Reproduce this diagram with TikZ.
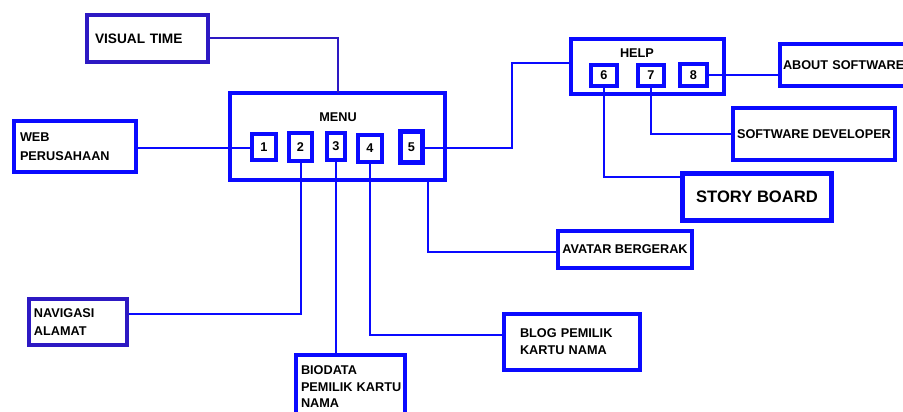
\documentclass[tikz,border=0pt]{standalone}
\usepackage{fontspec}
\setmainfont{Liberation Sans}
\definecolor{bl}{RGB}{10,10,255}
\definecolor{pu}{RGB}{45,25,195}
\begin{document}
\begin{tikzpicture}[x=1pt,y=-1pt,
  every node/.style={font=\fontsize{12.7}{17.5}\selectfont\bfseries, text=black, outer sep=0pt},
  bx/.style={draw=bl, line width=4pt, inner sep=0pt},
  lbx/.style={bx, align=left},
  cbx/.style={bx, align=center},
  num/.style={draw=bl, line width=4.5pt, inner sep=0pt},
  conn/.style={draw=bl, line width=2pt},
]
\useasboundingbox (0,0) rectangle (903,412);

% connectors first
\coordinate (jh) at (512,63);
\coordinate (jsb) at (680,177);
\coordinate (ja) at (428,252);
\coordinate (jb) at (502,335);
\coordinate (jn) at (129,314);

% boxes
\node[lbx, draw=pu, text width=105pt, inner xsep=8pt, minimum width=121pt, minimum height=47pt, font=\fontsize{13.7}{16}\selectfont\bfseries] (vt) at (147.5,38.5) {VISUAL TIME};
\node[lbx, text width=110pt, inner xsep=6pt, minimum width=122pt, minimum height=51pt, font=\fontsize{12.7}{19}\selectfont\bfseries] (web) at (75,146.5) {WEB\\PERUSAHAAN};
\node[lbx, draw=pu, text width=88pt, inner xsep=5pt, minimum width=98pt, minimum height=46pt, font=\fontsize{12.7}{18}\selectfont\bfseries] (nav) at (78,322) {NAVIGASI\\ALAMAT};
\node[lbx, text width=99pt, inner xsep=5pt, minimum width=109pt, minimum height=64pt, font=\fontsize{12.7}{16.5}\selectfont\bfseries] (bio) at (350.5,387) {BIODATA\\\mbox{PEMILIK KARTU}\\NAMA};
\node[lbx, text width=104pt, inner xsep=16pt, minimum width=136pt, minimum height=56pt, font=\fontsize{12.7}{17}\selectfont\bfseries] (blog) at (572,342) {BLOG PEMILIK\\KARTU NAMA};
\node[cbx, minimum width=134pt, minimum height=37pt] (av) at (625,249.5) {AVATAR BERGERAK};
\node[cbx, minimum width=162pt, minimum height=52pt] (sd) at (814,134) {SOFTWARE DEVELOPER};
\node[cbx, line width=5pt, minimum width=149pt, minimum height=47pt, font=\fontsize{16.6}{20}\selectfont\bfseries] (sb) at (757,197) {STORY BOARD};
\node[lbx, text width=128pt, inner xsep=3pt, minimum width=134pt, minimum height=42pt] (ab) at (847,65) {\mbox{ABOUT SOFTWARE}};

\node[bx, minimum width=215pt, minimum height=87pt] (menu) at (337.5,136.5) {};
\node (menut) at (338,117) {MENU};
\node[bx, minimum width=153pt, minimum height=55pt] (help) at (647.5,66.5) {};
\node (helpt) at (637,53) {HELP};

% connectors
\draw[conn, draw=pu] (vt.east) -| (menu.north);
\draw[conn] (web.east |- 0,148) -- (250,148);
\draw[conn] (425,148) -| (jh) -- (help.west |- jh);
\draw[conn] (709,75.5) -- (ab.west |- 0,75.5);
\draw[conn] (651,88) |- (sd.west);
\draw[conn] (604,88) |- (jsb);
\draw[conn] (menu.south -| ja) |- (av.west |- ja);
\draw[conn] (370,164) |- (jb);
\draw[conn] (336,162) -- (336,353);
\draw[conn] (301,163) |- (jn);

% numbered boxes
\node[num, fill=white, minimum width=24pt, minimum height=26pt] (b1) at (264,147) {1};
\node[num, fill=white, minimum width=23pt, minimum height=28pt] (b2) at (300.5,147) {2};
\node[num, fill=white, minimum width=18pt, minimum height=27pt] (b3) at (336,146.5) {3};
\node[num, fill=white, minimum width=24pt, minimum height=27pt] (b4) at (370,148.5) {4};
\node[num, fill=white, line width=5pt, minimum width=22pt, minimum height=31pt] (b5) at (411.5,147) {5};
\node[num, fill=white, minimum width=26pt, minimum height=21pt] (b6) at (604,75.5) {6};
\node[num, fill=white, minimum width=26pt, minimum height=21pt] (b7) at (651,75.5) {7};
\node[num, fill=white, minimum width=27pt, minimum height=22pt] (b8) at (693.5,75) {8};
\end{tikzpicture}
\end{document}
